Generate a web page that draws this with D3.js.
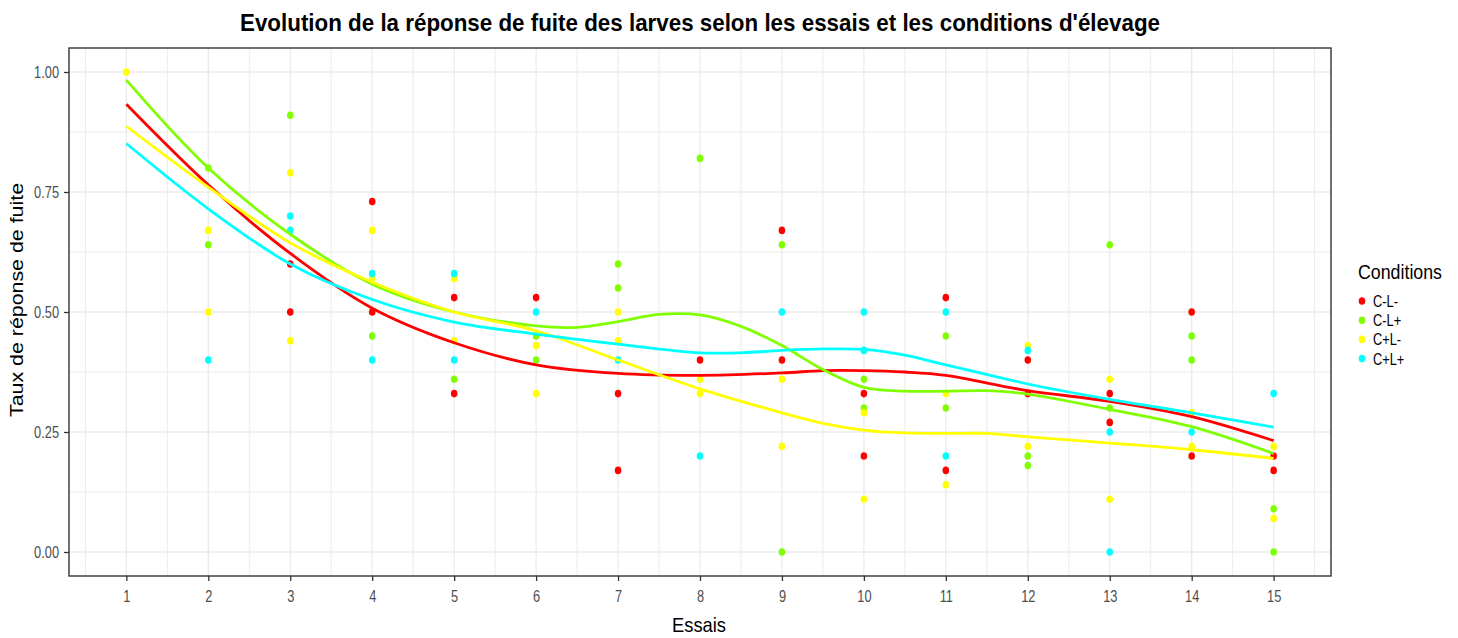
<!DOCTYPE html>
<html>
<head>
<meta charset="utf-8">
<script src="https://cdn.jsdelivr.net/npm/d3@7"></script>
<style>
  body { margin: 0; background: #fff; }
  text { font-family: "Liberation Sans", Arial, sans-serif; }
</style>
</head>
<body>
<div id="viz"></div>
<script>
const width = 1458;
const height = 638;
const margin = {top: 48, right: 127, bottom: 62, left: 69};
const squeeze = 0.8; // text in the reference looks horizontally condensed

// Categories and ticks
const essais = [1, 2, 3, 4, 5, 6, 7, 8, 9, 10, 11, 12, 13, 14, 15];
const yTicks = [0, 0.25, 0.5, 0.75, 1];
const conditions = ['C-L-', 'C-L+', 'C+L-', 'C+L+'];
const colors = ['#FF0000', '#80FF00', '#FFFF00', '#00FFFF'];

// Observed points [essai, taux]
const pointsCLm = [[3, 0.60], [3, 0.50], [4, 0.73], [4, 0.50], [5, 0.53], [5, 0.33],
  [6, 0.53], [7, 0.33], [7, 0.17], [8, 0.40], [9, 0.67], [9, 0.40], [10, 0.33], [10, 0.20],
  [11, 0.53], [11, 0.17], [12, 0.40], [12, 0.33], [13, 0.33], [13, 0.27], [14, 0.50], [14, 0.20],
  [15, 0.20], [15, 0.17]];
const pointsCLp = [[2, 0.80], [2, 0.64], [3, 0.91], [4, 0.45], [5, 0.36], [6, 0.45],
  [6, 0.40], [7, 0.60], [7, 0.55], [8, 0.82], [9, 0.64], [9, 0.00], [10, 0.36], [10, 0.30],
  [11, 0.45], [11, 0.30], [12, 0.20], [12, 0.18], [13, 0.64], [13, 0.30], [14, 0.45], [14, 0.40],
  [15, 0.09], [15, 0.00]];
const pointsCpLm = [[1, 1.00], [2, 0.67], [2, 0.50], [3, 0.79], [3, 0.44], [4, 0.67], [4, 0.57],
  [5, 0.57], [5, 0.44], [6, 0.43], [6, 0.33], [7, 0.50], [7, 0.44], [8, 0.36], [8, 0.33],
  [9, 0.36], [9, 0.22], [10, 0.29], [10, 0.11], [11, 0.33], [11, 0.14], [12, 0.43], [12, 0.22],
  [13, 0.36], [13, 0.11], [14, 0.29], [14, 0.22], [15, 0.22], [15, 0.07]];
const pointsCpLp = [[2, 0.40], [3, 0.70], [3, 0.67], [4, 0.58], [4, 0.40], [5, 0.58], [5, 0.40],
  [6, 0.50], [7, 0.40], [8, 0.20], [9, 0.50], [10, 0.50], [10, 0.42], [11, 0.50], [11, 0.20],
  [12, 0.42], [13, 0.25], [13, 0.00], [14, 0.25], [15, 0.33]];

// Smoothed curves [essai, taux]
const smoothCLm = [[1, 0.933], [2, 0.765], [3, 0.622], [4, 0.508], [5, 0.436], [6, 0.390],
  [7, 0.372], [8, 0.368], [9, 0.373], [9.5, 0.378], [10, 0.378], [10.5, 0.375], [11, 0.368],
  [12, 0.336], [13, 0.314], [14, 0.282], [15, 0.232]];
const smoothCLp = [[1, 0.983], [2, 0.800], [3, 0.662], [4, 0.558], [5, 0.500], [6, 0.471],
  [6.5, 0.468], [7, 0.480], [7.5, 0.495], [8, 0.494], [8.5, 0.470], [9, 0.430], [9.5, 0.380],
  [10, 0.343], [10.5, 0.335], [11, 0.335], [11.5, 0.336], [12, 0.329], [13, 0.297], [14, 0.261],
  [15, 0.205]];
const smoothCpLm = [[1, 0.887], [2, 0.760], [3, 0.644], [4, 0.562], [5, 0.500], [6, 0.461],
  [7, 0.400], [8, 0.340], [9, 0.290], [9.5, 0.268], [10, 0.254], [10.5, 0.248], [11, 0.247],
  [11.5, 0.247], [12, 0.240], [13, 0.227], [14, 0.213], [15, 0.195]];
const smoothCpLp = [[1, 0.851], [2, 0.715], [3, 0.600], [4, 0.526], [5, 0.479], [6, 0.454],
  [7, 0.433], [8, 0.415], [8.5, 0.415], [9, 0.420], [9.5, 0.423], [10, 0.422], [10.5, 0.410],
  [11, 0.390], [12, 0.350], [13, 0.318], [14, 0.290], [15, 0.260]];

const allPoints = [pointsCLm, pointsCLp, pointsCpLm, pointsCpLp];
const allSmooth = [smoothCLm, smoothCLp, smoothCpLm, smoothCpLp];

// Scales (ggplot-like 5% expansion)
const xScale = d3.scaleLinear()
  .domain([0.3, 15.7])
  .range([margin.left, width - margin.right]);
const yScale = d3.scaleLinear()
  .domain([-0.05, 1.05])
  .range([height - margin.bottom, margin.top]);

const svg = d3.select('#viz')
  .append('svg')
    .attr('width', width)
    .attr('height', height);

const condense = (sel, k) => {
  sel.each(function() {
    const w = this.getComputedTextLength();
    d3.select(this).attr('textLength', w * k).attr('lengthAdjust', 'spacingAndGlyphs');
  });
};

// Grid
const grid = svg.append('g').attr('class', 'grid').attr('stroke', '#EBEBEB');
const xMinor = essais.map(d => d - 0.5).concat([15.5]);
const yMinor = [0.125, 0.375, 0.625, 0.875];
grid.selectAll('.xminor').data(xMinor).join('line')
  .attr('x1', d => xScale(d)).attr('x2', d => xScale(d))
  .attr('y1', margin.top).attr('y2', height - margin.bottom)
  .attr('stroke-width', 1);
grid.selectAll('.yminor').data(yMinor).join('line')
  .attr('y1', d => yScale(d)).attr('y2', d => yScale(d))
  .attr('x1', margin.left).attr('x2', width - margin.right)
  .attr('stroke-width', 1);
grid.selectAll('.xmajor').data(essais).join('line')
  .attr('x1', d => xScale(d)).attr('x2', d => xScale(d))
  .attr('y1', margin.top).attr('y2', height - margin.bottom)
  .attr('stroke-width', 1.3);
grid.selectAll('.ymajor').data(yTicks).join('line')
  .attr('y1', d => yScale(d)).attr('y2', d => yScale(d))
  .attr('x1', margin.left).attr('x2', width - margin.right)
  .attr('stroke-width', 1.3);

// Points
allPoints.forEach((pts, i) => {
  svg.append('g')
      .attr('class', 'points-group')
      .attr('fill', colors[i])
    .selectAll('ellipse')
    .data(pts)
    .join('ellipse')
      .attr('cx', d => xScale(d[0]))
      .attr('cy', d => yScale(d[1]))
      .attr('rx', 3.3)
      .attr('ry', 3.8);
});

// Smooth lines
const line = d3.line()
  .x(d => xScale(d[0]))
  .y(d => yScale(d[1]))
  .curve(d3.curveCatmullRom);
allSmooth.forEach((s, i) => {
  svg.append('path')
    .attr('d', line(s))
    .attr('fill', 'none')
    .attr('stroke', colors[i])
    .attr('stroke-width', 2.8);
});

// Panel border
svg.append('rect')
  .attr('x', margin.left).attr('y', margin.top)
  .attr('width', width - margin.left - margin.right)
  .attr('height', height - margin.top - margin.bottom)
  .attr('fill', 'none')
  .attr('stroke', '#333333')
  .attr('stroke-width', 1.4);

// Axes
const xAxis = d3.axisBottom(xScale)
  .tickValues(essais)
  .tickFormat(d3.format('d'))
  .tickSize(5)
  .tickPadding(10);
const xAxisGroup = svg.append('g')
    .attr('class', 'x-axis-group')
    .attr('transform', `translate(0,${height - margin.bottom})`)
  .call(xAxis);

const yAxis = d3.axisLeft(yScale)
  .tickValues(yTicks)
  .tickFormat(d3.format('.2f'))
  .tickSize(5)
  .tickPadding(5);
const yAxisGroup = svg.append('g')
    .attr('class', 'y-axis-group')
    .attr('transform', `translate(${margin.left},0)`)
  .call(yAxis);

[xAxisGroup, yAxisGroup].forEach(g => {
  g.select('.domain').remove();
  g.selectAll('line').attr('stroke', '#333333').attr('stroke-width', 1.3);
  g.selectAll('text')
    .attr('fill', '#4D4D4D')
    .style('font-size', '16px')
    .call(condense, squeeze);
});

// Titles
svg.append('text')
  .attr('x', (margin.left + width - margin.right) / 2)
  .attr('y', 31)
  .attr('text-anchor', 'middle')
  .style('font-size', '24px')
  .style('font-weight', 'bold')
  .attr('textLength', 920)
  .attr('lengthAdjust', 'spacingAndGlyphs')
  .text("Evolution de la réponse de fuite des larves selon les essais et les conditions d'élevage");

svg.append('text')
  .attr('x', 699)
  .attr('y', 632)
  .attr('text-anchor', 'middle')
  .style('font-size', '21px')
  .attr('textLength', 54)
  .attr('lengthAdjust', 'spacingAndGlyphs')
  .text('Essais');

svg.append('text')
  .attr('transform', 'translate(23,300) rotate(-90)')
  .attr('text-anchor', 'middle')
  .style('font-size', '19px')
  .attr('textLength', 234)
  .attr('lengthAdjust', 'spacingAndGlyphs')
  .text('Taux de réponse de fuite');

// Legend
const legend = svg.append('g')
  .attr('class', 'legend-group')
  .attr('transform', 'translate(1358,0)');
legend.append('text')
  .attr('x', 0)
  .attr('y', 279)
  .style('font-size', '20px')
  .attr('textLength', 84)
  .attr('lengthAdjust', 'spacingAndGlyphs')
  .text('Conditions');
const keys = legend.selectAll('.key')
  .data(conditions)
  .join('g')
    .attr('class', 'key')
    .attr('transform', (d, i) => `translate(0,${301 + i * 19.2})`);
keys.append('ellipse')
  .attr('cx', 4)
  .attr('cy', 0)
  .attr('rx', 3.3)
  .attr('ry', 3.8)
  .attr('fill', (d, i) => colors[i]);
keys.append('text')
  .attr('x', 15)
  .attr('y', 6)
  .style('font-size', '16px')
  .text(d => d)
  .call(condense, squeeze);
</script>
</body>
</html>
